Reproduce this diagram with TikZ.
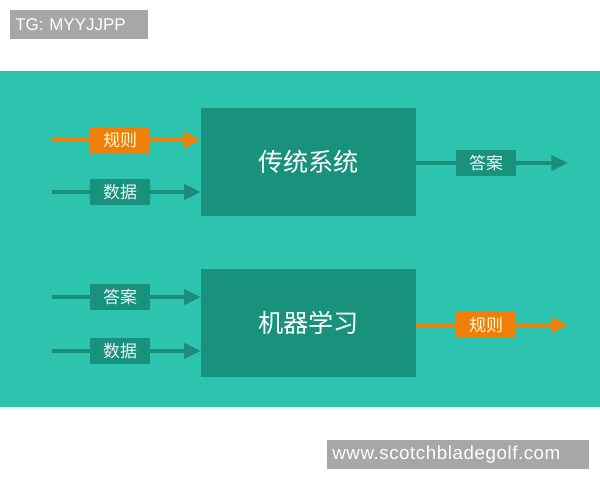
\documentclass[tikz,border=0pt]{standalone}
\usepackage{fontspec}
\setmainfont{Liberation Sans}
\newfontfamily\cjk{Noto Sans CJK SC}
\usetikzlibrary{arrows.meta,positioning}
\definecolor{bandteal}{HTML}{2DC4AF}
\definecolor{boxteal}{HTML}{18927C}
\definecolor{lineteal}{HTML}{1A8E79}
\definecolor{ruleorange}{HTML}{F07F0A}
\definecolor{taggray}{HTML}{A7A7A7}
\tikzset{
    sysbox/.style={fill=boxteal, minimum width=6.45cm, minimum height=3.24cm,
        text=white, font=\cjk\fontsize{21.5}{24}\selectfont},
    tealtag/.style={fill=boxteal, minimum width=1.8cm, minimum height=0.8cm,
        inner sep=0pt, text=white!92!teal, font=\cjk\fontsize{14.5}{16}\selectfont},
    orangetag/.style={tealtag, fill=ruleorange, text=white!85!yellow},
    tealline/.style={draw=lineteal, line width=3.4pt},
    orangeline/.style={tealline, draw=ruleorange},
    tip/.style={-{Triangle[length=0.5cm, width=0.45cm]}},
    graytag/.style={fill=taggray, text=white, inner xsep=0.16cm, inner ysep=0pt,
        minimum height=0.87cm, align=left}
}

\begin{document}
\begin{tikzpicture}[x=0.03cm, y=-0.03cm]
    \fill[white] (0, 0) rectangle (600, 480);
    \useasboundingbox (0, 0) rectangle (600, 480);
    \fill[bandteal] (0, 71) rectangle (600, 407);

    % boxes
    \node[sysbox] (sys) at (308.5, 162) {传统系统};
    \node[sysbox] (ml) at (308.5, 323) {机器学习};

    % free ends
    \coordinate (in1) at (52, 140);
    \coordinate (in2) at (52, 192);
    \coordinate (in3) at (52, 297);
    \coordinate (in4) at (52, 351);
    \coordinate (out1) at (568, 163);
    \coordinate (out2) at (568, 325);

    % labels
    \node[orangetag] (rule1) at (120, 140) {规则};
    \node[tealtag] (data1) at (120, 192) {数据};
    \node[tealtag] (ans1) at (486, 163) {答案};
    \node[tealtag] (ans2) at (120, 297) {答案};
    \node[tealtag] (data2) at (120, 351) {数据};
    \node[orangetag] (rule2) at (486, 325) {规则};

    % traditional system
    \draw[orangeline] (in1) -- (rule1);
    \draw[orangeline, tip] (rule1) -- (rule1 -| sys.west);
    \draw[tealline] (in2) -- (data1);
    \draw[tealline, tip] (data1) -- (data1 -| sys.west);
    \draw[tealline] (ans1 -| sys.east) -- (ans1);
    \draw[tealline, tip] (ans1) -- (out1);

    % machine learning
    \draw[tealline] (in3) -- (ans2);
    \draw[tealline, tip] (ans2) -- (ans2 -| ml.west);
    \draw[tealline] (in4) -- (data2);
    \draw[tealline, tip] (data2) -- (data2 -| ml.west);
    \draw[orangeline] (rule2 -| ml.east) -- (rule2);
    \draw[orangeline, tip] (rule2) -- (out2);

    % watermarks
    \node[graytag, text width=3.82cm, font=\fontsize{14.5}{16}\selectfont]
        (tg) at (79, 24.5) {TG: MYYJJPP};
    \node[graytag, text width=7.54cm,
        font=\addfontfeatures{LetterSpace=3}\fontsize{16}{18}\selectfont]
        (site) at (458, 454.5) {www.scotchbladegolf.com};
\end{tikzpicture}
\end{document}
